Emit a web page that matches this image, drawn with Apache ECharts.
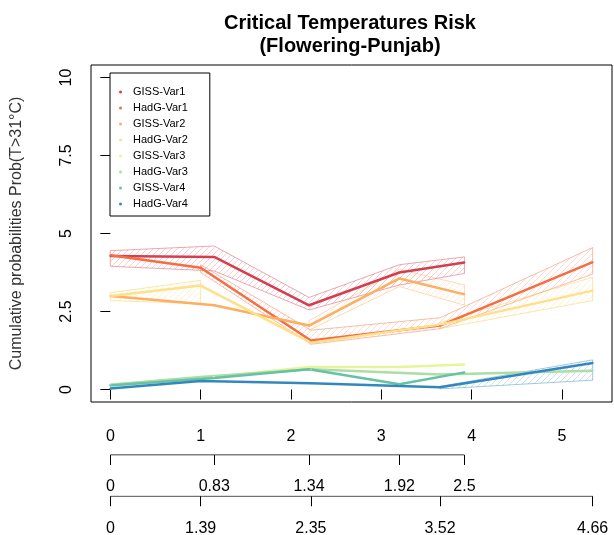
<!DOCTYPE html>
<html>
<head>
<meta charset="utf-8">
<script src="https://cdn.jsdelivr.net/npm/echarts@6/dist/echarts.min.js"></script>
<style>
html,body{margin:0;padding:0;background:#fff}
#chart{width:614px;height:535px}
</style>
</head>
<body>
<div id="chart"></div>
<script>
// x positions of the points on the main axis
var gissX=[0,1.15,2.2,3.2,3.92];
var hadgX=[0,1.0,2.22,3.65,5.34];

var seriesNames=['GISS-Var1','HadG-Var1','GISS-Var2','HadG-Var2','GISS-Var3','HadG-Var3','GISS-Var4','HadG-Var4'];
var seriesColors=['#D53E4F','#F46D43','#FDAE61','#FEE08B','#E6F598','#ABDDA4','#66C2A5','#3288BD'];

var gissVar1=[4.28,4.25,2.7,3.75,4.07];
var hadgVar1=[4.3,3.9,1.57,2.05,4.08];
var gissVar2=[3.0,2.7,2.05,3.56,3.05];
var hadgVar2=[3.0,3.33,1.5,2.08,3.17];
var gissVar3=[0.15,0.4,0.72,0.72,0.8];
var hadgVar3=[0.15,0.4,0.65,0.48,0.6];
var gissVar4=[0.13,0.37,0.65,0.17,0.55];
var hadgVar4=[0.03,0.27,0.2,0.07,0.85];

// hatched bands: x, lower, upper
var band1X=[0,1.15,2.2,3.2,3.92], band1Lo=[3.95,3.8,2.55,3.35,3.72], band1Hi=[4.45,4.6,2.95,4.0,4.25];
var band2X=[1.0,2.22,3.65,5.34], band2Lo=[3.75,1.45,1.95,3.7], band2Hi=[4.0,1.9,2.3,4.55];
var band3X=[2.2,3.2,3.92], band3Lo=[1.9,3.3,2.7], band3Hi=[2.2,3.85,3.35];
var band4X=[3.65,5.34], band4Lo=[1.95,2.85], band4Hi=[2.15,3.6];
var band5X=[0,1.0], band5Lo=[2.85,2.75], band5Hi=[3.1,3.5];
var band6X=[3.65,5.34], band6Lo=[0.02,0.3], band6Hi=[0.1,0.95];

var mainTicks=[0,1,2,3,4,5];
var yTicks=[0,2.5,5,7.5,10];
var axis2Labels=['0','0.83','1.34','1.92','2.5'];
var axis3Labels=['0','1.39','2.35','3.52','4.66'];

var xMin=-0.214,xMax=5.554;
var font='"Liberation Sans", Arial, sans-serif';

function hatch(color){
	var c=document.createElement('canvas');
	c.width=6;c.height=6;
	var g=c.getContext('2d');
	g.strokeStyle=color;
	g.globalAlpha=0.55;
	g.lineWidth=1;
	g.beginPath();
	g.moveTo(0,6);g.lineTo(6,0);
	g.moveTo(-1,1);g.lineTo(1,-1);
	g.moveTo(5,7);g.lineTo(7,5);
	g.stroke();
	return c;
}

function bandSeries(xs,lo,hi,color){
	var rows=[];
	for(var i=0;i<xs.length;i++){rows.push([xs[i],lo[i],hi[i]]);}
	return {
		type:'custom',
		silent:true,
		z:1,
		data:rows,
		renderItem:function(params,api){
			if(params.dataIndex!==0) return;
			var pts=[];
			for(var i=0;i<rows.length;i++){pts.push(api.coord([rows[i][0],rows[i][2]]));}
			for(var j=rows.length-1;j>=0;j--){pts.push(api.coord([rows[j][0],rows[j][1]]));}
			return {
				type:'polygon',
				shape:{points:pts},
				style:{fill:{image:hatch(color),repeat:'repeat'},stroke:color,opacity:0.45,lineWidth:1}
			};
		}
	};
}

function pairs(xs,ys){
	var out=[];
	for(var i=0;i<xs.length;i++){out.push([xs[i],ys[i]]);}
	return out;
}

var lineData=[
	pairs(gissX,gissVar1),pairs(hadgX,hadgVar1),
	pairs(gissX,gissVar2),pairs(hadgX,hadgVar2),
	pairs(gissX,gissVar3),pairs(hadgX,hadgVar3),
	pairs(gissX,gissVar4),pairs(hadgX,hadgVar4)
];

var series=[
	bandSeries(band1X,band1Lo,band1Hi,'#D53E4F'),
	bandSeries(band2X,band2Lo,band2Hi,'#F46D43'),
	bandSeries(band3X,band3Lo,band3Hi,'#FDAE61'),
	bandSeries(band4X,band4Lo,band4Hi,'#F5C84C'),
	bandSeries(band5X,band5Lo,band5Hi,'#F5C84C'),
	bandSeries(band6X,band6Lo,band6Hi,'#3288BD')
];
for(var k=0;k<seriesNames.length;k++){
	series.push({
		name:seriesNames[k],
		type:'line',
		data:lineData[k],
		symbol:'circle',
		symbolSize:2,
		showSymbol:true,
		z:3,
		color:seriesColors[k],
		lineStyle:{width:2.5,color:seriesColors[k]},
		itemStyle:{color:seriesColors[k]},
		silent:true
	});
}
// extra axis lines, from first to last tick
series.push({type:'line',xAxisIndex:1,yAxisIndex:1,data:[[gissX[0],0],[gissX[gissX.length-1],0]],symbol:'none',lineStyle:{color:'#000',width:1},silent:true});
series.push({type:'line',xAxisIndex:2,yAxisIndex:2,data:[[hadgX[0],0],[hadgX[hadgX.length-1],0]],symbol:'none',lineStyle:{color:'#000',width:1},silent:true});

function extraAxis(idx,ticks,labels){
	return {
		type:'value',gridIndex:idx,min:xMin,max:xMax,position:'bottom',
		axisLine:{show:false},
		splitLine:{show:false},
		axisTick:{show:true,length:10,lineStyle:{color:'#000'},customValues:ticks},
		axisLabel:{color:'#000',fontSize:16,fontFamily:font,margin:24,customValues:ticks,
			formatter:function(v){var i=ticks.indexOf(v);return i>=0?labels[i]:'';}}
	};
}

var chart=echarts.init(document.getElementById('chart'));
chart.setOption({
	animation:false,
	backgroundColor:'#fff',
	title:{
		text:'Critical Temperatures Risk\n(Flowering-Punjab)',
		left:345,top:7,textAlign:'center',
		textStyle:{fontSize:20,fontWeight:'bold',fontFamily:font,color:'#000',lineHeight:23}
	},
	legend:{
		orient:'vertical',left:110,top:73,
		data:seriesNames,
		icon:'circle',itemWidth:3,itemHeight:3,itemGap:2,
		borderColor:'#000',borderWidth:1,padding:[12,22,5,9],
		backgroundColor:'#fff',
		textStyle:{fontSize:11,fontFamily:font,color:'#000',lineHeight:14,padding:[0,0,0,6]}
	},
	grid:[
		{left:91,right:2,top:65,bottom:133,show:true,borderColor:'#000',borderWidth:1,backgroundColor:'transparent'},
		{left:91,right:2,top:454,height:1},
		{left:91,right:2,top:496,height:1}
	],
	xAxis:[
		{type:'value',gridIndex:0,min:xMin,max:xMax,
			axisLine:{show:false},splitLine:{show:false},
			axisTick:{show:true,length:10,lineStyle:{color:'#000'},customValues:mainTicks},
			axisLabel:{color:'#000',fontSize:16,fontFamily:font,margin:27,customValues:mainTicks}},
		extraAxis(1,gissX,axis2Labels),
		extraAxis(2,hadgX,axis3Labels)
	],
	yAxis:[
		{type:'value',gridIndex:0,min:-0.4,max:10.4,
			name:'Cumulative probabilities Prob(T>31°C)',nameLocation:'middle',nameGap:66,nameRotate:90,
			nameTextStyle:{fontSize:16,fontFamily:font,color:'#333'},
			axisLine:{show:false},splitLine:{show:false},
			axisTick:{show:true,length:10,lineStyle:{color:'#000'},customValues:yTicks},
			axisLabel:{color:'#000',fontSize:16,fontFamily:font,margin:16,rotate:90,customValues:yTicks,
				formatter:function(v){return String(v);}}},
		{type:'value',gridIndex:1,min:0,max:1,show:false},
		{type:'value',gridIndex:2,min:0,max:1,show:false}
	],
	series:series
});
</script>
</body>
</html>
